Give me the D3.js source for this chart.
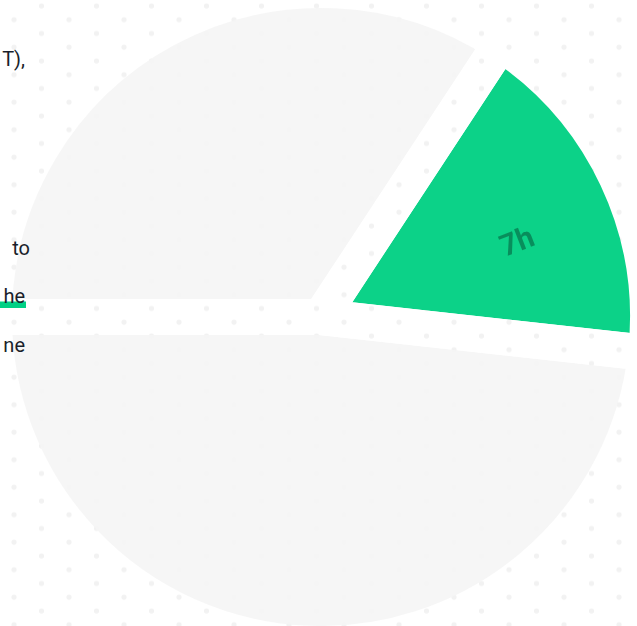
<!DOCTYPE html>
<html>
<head>
<meta charset="utf-8">
<script src="https://cdn.jsdelivr.net/npm/d3@7"></script>
<style>
  html, body { margin: 0; padding: 0; background: #fff; overflow: hidden; }
  svg { display: block; }
</style>
</head>
<body>
<div id="chart"></div>
<script>
// slices, clockwise from the green one
const categories = ["Focus", "Rest", "Other"];
const hours = [7, 19.3, 13.7];
const labels = ["7h", "", ""];

// visible tail ends of the paragraph on the left
const textLines = ["T),", "to", "he", "ne"];
const highlighted = [false, false, true, false];

const width = 637;
const height = 626;
const cx = 321, cy = 317;
const radius = 327;   // visible radius is radius - gap/2
const gap = 36;

const svg = d3.select("#chart")
    .append("svg")
    .attr("width", width)
    .attr("height", height);

const defs = svg.append("defs");

// dotted background
const pattern = defs.append("pattern")
    .attr("id", "dots")
    .attr("patternUnits", "userSpaceOnUse")
    .attr("width", 55)
    .attr("height", 27.5);
pattern.append("circle").attr("cx", 14).attr("cy", 19.75).attr("r", 2.6).attr("fill", "#f2f2f2");
pattern.append("circle").attr("cx", 41.5).attr("cy", 6).attr("r", 2.6).attr("fill", "#f2f2f2");

const greenGrad = defs.append("linearGradient")
    .attr("id", "greenGrad")
    .attr("gradientUnits", "userSpaceOnUse")
    .attr("x1", 350).attr("y1", 0)
    .attr("x2", 450).attr("y2", 0);
greenGrad.append("stop").attr("offset", "0%").attr("stop-color", "#0cd288");
greenGrad.append("stop").attr("offset", "100%").attr("stop-color", "#00cd80");

svg.append("rect").attr("width", width).attr("height", height).attr("fill", "#fff");
svg.append("rect").attr("width", width).attr("height", height).attr("fill", "url(#dots)");

// pie
const start = 33.3 * Math.PI / 180;
const pie = d3.pie()
    .sort(null)
    .value(d => d)
    .startAngle(start)
    .endAngle(start + 2 * Math.PI);
const arcs = pie(hours);

const arc = d3.arc().innerRadius(0).outerRadius(radius);

const color = d3.scaleOrdinal()
    .domain(categories)
    .range(["url(#greenGrad)", "#f5f5f5", "#f5f5f5"]);

// the gaps: each slice eroded by gap/2 along all its edges
const mask = defs.append("mask")
    .attr("id", "gaps")
    .attr("maskUnits", "userSpaceOnUse")
    .attr("x", 0).attr("y", 0)
    .attr("width", width).attr("height", height);
const mg = mask.append("g").attr("transform", `translate(${cx},${cy})`);
mg.selectAll("path.fill")
    .data(arcs)
    .join("path")
    .attr("class", "fill")
    .attr("d", arc)
    .attr("fill", "#fff");
mg.selectAll("path.edge")
    .data(arcs)
    .join("path")
    .attr("class", "edge")
    .attr("d", arc)
    .attr("fill", "none")
    .attr("stroke", "#000")
    .attr("stroke-width", gap)
    .attr("stroke-linejoin", "round");

const pieG = svg.append("g")
    .attr("mask", "url(#gaps)")
    .append("g")
    .attr("transform", `translate(${cx},${cy})`);

pieG.selectAll("path")
    .data(arcs)
    .join("path")
    .attr("d", arc)
    .attr("fill", (d, i) => color(categories[i]))
    .attr("fill-opacity", (d, i) => i === 0 ? 1 : 0.88);

// label, read along the radius
pieG.selectAll("text")
    .data(arcs.filter((d, i) => labels[i]))
    .join("text")
    .each(function(d) {
        const mid = (d.startAngle + d.endAngle) / 2 + 4 * Math.PI / 180;
        const [x, y] = d3.pointRadial(mid, 210);
        const rot = mid * 180 / Math.PI - 90;
        d3.select(this)
            .attr("transform", `translate(${x},${y}) rotate(${rot})`);
    })
    .attr("text-anchor", "middle")
    .attr("dominant-baseline", "central")
    .attr("font-family", "Roboto, sans-serif")
    .attr("font-weight", 700)
    .attr("font-size", 30)
    .attr("fill", "#000")
    .attr("fill-opacity", 0.32)
    .text(d => labels[d.index]);

// paragraph text, on top of the pie
const textG = svg.append("g").attr("class", "para");
const lineY = [66, 255, 303, 352];
const lineEnd = [25, 30, 25, 25];

textG.selectAll("rect.hl")
    .data(textLines.map((t, i) => i).filter(i => highlighted[i]))
    .join("rect")
    .attr("class", "hl")
    .attr("x", -40)
    .attr("y", i => lineY[i] - 1.5)
    .attr("width", i => lineEnd[i] + 1 + 40)
    .attr("height", 6.5)
    .attr("fill", "#00d084");

textG.selectAll("text")
    .data(textLines)
    .join("text")
    .attr("x", (d, i) => lineEnd[i])
    .attr("y", (d, i) => lineY[i])
    .attr("text-anchor", "end")
    .attr("font-family", "Roboto, sans-serif")
    .attr("font-size", 20)
    .attr("fill", "#1a1f2b")
    .text(d => d);
</script>
</body>
</html>
